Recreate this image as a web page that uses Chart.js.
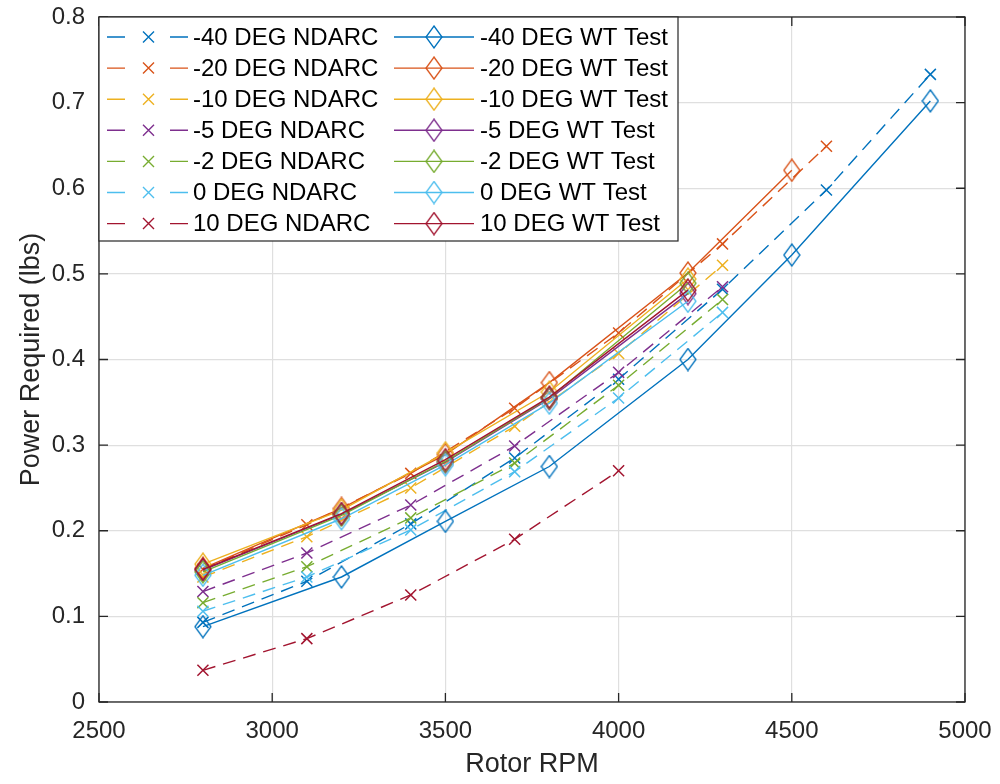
<!DOCTYPE html>
<html>
<head>
<meta charset="utf-8">
<script src="https://cdn.jsdelivr.net/npm/chart.js@4/dist/chart.umd.min.js"></script>
<style>
  html, body { margin: 0; padding: 0; background: #fff; }
  #wrap { width: 1000px; height: 784px; }
</style>
</head>
<body>
<div id="wrap"><canvas id="chart" width="1000" height="784"></canvas></div>
<script>
// rpm values for each family of runs
const ndarcRpm = [2800, 3100, 3400, 3700, 4000, 4300, 4600, 4900];
const wtRpm = [2800, 3200, 3500, 3800, 4200, 4500, 4900];

// NDARC predictions (lbs)
const ndarcM40 = [0.093, 0.141, 0.208, 0.285, 0.377, 0.482, 0.598, 0.733];
const ndarcM20 = [0.155, 0.207, 0.267, 0.343, 0.431, 0.535, 0.649];
const ndarcM10 = [0.146, 0.193, 0.250, 0.322, 0.407, 0.510];
const ndarcM5 = [0.129, 0.174, 0.230, 0.299, 0.385, 0.485];
const ndarcM2 = [0.116, 0.158, 0.215, 0.279, 0.370, 0.470];
const ndarc0 = [0.106, 0.146, 0.201, 0.269, 0.355, 0.455];
const ndarc10 = [0.037, 0.074, 0.125, 0.190, 0.270];

// wind tunnel test (lbs)
const wtM40 = [0.088, 0.146, 0.211, 0.275, 0.400, 0.522, 0.702];
const wtM20 = [0.156, 0.226, 0.289, 0.373, 0.501, 0.621];
const wtM10 = [0.161, 0.224, 0.291, 0.362, 0.494];
const wtM5 = [0.154, 0.219, 0.280, 0.354, 0.477];
const wtM2 = [0.152, 0.218, 0.281, 0.355, 0.489];
const wt0 = [0.148, 0.214, 0.277, 0.349, 0.468];
const wt10 = [0.155, 0.220, 0.283, 0.356, 0.481];

const angles = ['-40 DEG', '-20 DEG', '-10 DEG', '-5 DEG', '-2 DEG', '0 DEG', '10 DEG'];
const colors = ['#0072BD', '#D95319', '#EDB120', '#7E2F8E', '#77AC30', '#4DBEEE', '#A2142F'];

const xTicks = [2500, 3000, 3500, 4000, 4500, 5000];
const yTicks = [0, 0.1, 0.2, 0.3, 0.4, 0.5, 0.6, 0.7, 0.8];

const ndarcSets = [ndarcM40, ndarcM20, ndarcM10, ndarcM5, ndarcM2, ndarc0, ndarc10];
const wtSets = [wtM40, wtM20, wtM10, wtM5, wtM2, wt0, wt10];

const axisColor = '#262626';
const fontFamily = '"Liberation Sans", Arial, sans-serif';

// tall diamond marker like matlab's 'd'
function diamond(color) {
    const c = document.createElement('canvas');
    c.width = 18;
    c.height = 24;
    const g = c.getContext('2d');
    g.strokeStyle = color;
    g.lineWidth = 1.3;
    g.beginPath();
    g.moveTo(9, 1);
    g.lineTo(17, 12);
    g.lineTo(9, 23);
    g.lineTo(1, 12);
    g.closePath();
    g.stroke();
    return c;
}

function toPoints(xs, ys) {
    return ys.map((y, i) => ({ x: xs[i], y: y }));
}

const datasets = [];
ndarcSets.forEach((vals, i) => {
    datasets.push({
        label: angles[i] + ' NDARC',
        data: toPoints(ndarcRpm, vals),
        borderColor: colors[i],
        backgroundColor: colors[i],
        borderWidth: 1.4,
        borderDash: [13, 8],
        pointStyle: 'crossRot',
        pointRadius: 7.8,
        pointBorderWidth: 1.5,
        pointHoverRadius: 7.8,
        kind: 'ndarc'
    });
});
wtSets.forEach((vals, i) => {
    datasets.push({
        label: angles[i] + ' WT Test',
        data: toPoints(wtRpm, vals),
        borderColor: colors[i],
        backgroundColor: colors[i],
        borderWidth: 1.4,
        pointStyle: diamond(colors[i]),
        pointRadius: 9,
        kind: 'wt'
    });
});
// later series on top, as in matlab
datasets.forEach((d, i) => { d.order = datasets.length - i; });

const frame = {
    id: 'frame',
    afterDatasetsDraw(chart) {
        const { ctx, chartArea: a, scales } = chart;
        ctx.save();
        ctx.strokeStyle = axisColor;
        ctx.lineWidth = 1.3;
        ctx.strokeRect(a.left, a.top, a.right - a.left, a.bottom - a.top);
        const t = 9;
        ctx.beginPath();
        xTicks.forEach(v => {
            const px = scales.x.getPixelForValue(v);
            ctx.moveTo(px, a.bottom); ctx.lineTo(px, a.bottom - t);
            ctx.moveTo(px, a.top); ctx.lineTo(px, a.top + t);
        });
        yTicks.forEach(v => {
            const py = scales.y.getPixelForValue(v);
            ctx.moveTo(a.left, py); ctx.lineTo(a.left + t, py);
            ctx.moveTo(a.right, py); ctx.lineTo(a.right - t, py);
        });
        ctx.stroke();
        ctx.restore();
    }
};

const legendBox = {
    id: 'legendBox',
    afterDraw(chart) {
        const { ctx, chartArea: a } = chart;
        const left = a.left, top = a.top, right = 678, bottom = 241;
        ctx.save();
        ctx.fillStyle = '#fff';
        ctx.fillRect(left, top, right - left, bottom - top);
        ctx.strokeStyle = axisColor;
        ctx.lineWidth = 1.2;
        ctx.strokeRect(left, top, right - left, bottom - top);
        ctx.font = '24px ' + fontFamily;
        ctx.textBaseline = 'middle';
        ctx.textAlign = 'left';
        const rowH = 31.1;
        chart.data.datasets.forEach((d, i) => {
            const col = d.kind === 'ndarc' ? 0 : 1;
            const row = col === 0 ? i : i - ndarcSets.length;
            const y = top + 20 + row * rowH;
            ctx.strokeStyle = d.borderColor;
            ctx.lineWidth = 1.4;
            if (col === 0) {
                ctx.beginPath();
                ctx.moveTo(107, y); ctx.lineTo(125, y);
                ctx.moveTo(170, y); ctx.lineTo(188, y);
                ctx.stroke();
                ctx.beginPath();
                ctx.moveTo(143, y - 5.5); ctx.lineTo(154, y + 5.5);
                ctx.moveTo(154, y - 5.5); ctx.lineTo(143, y + 5.5);
                ctx.stroke();
                ctx.fillStyle = '#000';
                ctx.fillText(d.label, 193, y + 1);
            } else {
                ctx.beginPath();
                ctx.moveTo(394, y); ctx.lineTo(474, y);
                ctx.stroke();
                const img = d.pointStyle;
                ctx.drawImage(img, 434 - img.width / 2, y - img.height / 2);
                ctx.fillStyle = '#000';
                ctx.fillText(d.label, 480, y + 1);
            }
        });
        ctx.restore();
    }
};

new Chart(document.getElementById('chart'), {
    type: 'line',
    data: { datasets: datasets },
    options: {
        responsive: false,
        animation: false,
        devicePixelRatio: 1,
        layout: { padding: { left: 0, right: 35, top: 17, bottom: 0 } },
        plugins: {
            legend: { display: false },
            tooltip: { enabled: false }
        },
        scales: {
            x: {
                type: 'linear',
                min: 2500,
                max: 5000,
                afterBuildTicks: s => { s.ticks = xTicks.map(v => ({ value: v })); },
                afterFit: s => {
                    s.height = 82;
                    s.paddingLeft = 0;
                    s.paddingRight = 0;
                },
                grid: { color: '#dfdfdf', lineWidth: 1.2, drawTicks: false },
                border: { display: false },
                ticks: {
                    color: axisColor,
                    padding: 15,
                    maxRotation: 0,
                    font: { family: fontFamily, size: 24 },
                    callback: v => String(v)
                },
                title: {
                    display: true,
                    text: 'Rotor RPM',
                    color: axisColor,
                    padding: { top: 0, bottom: 3 },
                    font: { family: fontFamily, size: 27 }
                }
            },
            y: {
                min: 0,
                max: 0.8,
                afterBuildTicks: s => { s.ticks = yTicks.map(v => ({ value: v })); },
                afterFit: s => {
                    s.width = 99;
                    s.paddingTop = 0;
                    s.paddingBottom = 0;
                },
                grid: { color: '#dfdfdf', lineWidth: 1.2, drawTicks: false },
                border: { display: false },
                ticks: {
                    color: axisColor,
                    padding: 14,
                    font: { family: fontFamily, size: 24 },
                    callback: v => String(Math.round(v * 10) / 10)
                },
                title: {
                    display: true,
                    text: 'Power Required (lbs)',
                    color: axisColor,
                    padding: { top: 15, bottom: 0 },
                    font: { family: fontFamily, size: 27 }
                }
            }
        }
    },
    plugins: [frame, legendBox]
});
</script>
</body>
</html>
